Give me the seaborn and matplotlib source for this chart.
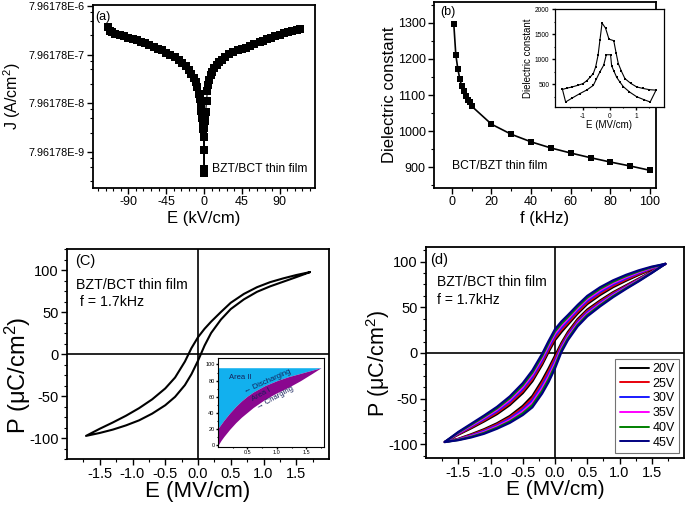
import numpy as np
import pandas as pd
import matplotlib
matplotlib.use("Agg")
import matplotlib.pyplot as plt
import seaborn as sns
from matplotlib.ticker import MultipleLocator, LogLocator, NullFormatter, FixedLocator, FormatStrFormatter
from matplotlib.lines import Line2D

# ---------------- (a) leakage current J-E ----------------
E_a = [-114, -112, -110, -106, -100, -95, -90, -85, -80, -75, -70, -65, -60, -55, -50,
       -45, -40, -35, -30, -26, -22, -18, -15, -12, -10, -8, -6, -5, -4, -3, -2, -1.5,
       -1, -0.6, -0.4, -0.2, 0.0, 0.2, 0.5, 1.0, 1.5, 2, 3, 4, 5, 6, 8, 10, 12, 15, 18,
       21, 25, 30, 35, 40, 45, 50, 55, 60, 66, 70, 75, 80, 85, 90, 95, 100, 105, 110, 114]
J_a = [3.02e-6, 2.51e-6, 2.29e-6, 2.14e-6, 2.00e-6, 1.91e-6, 1.78e-6, 1.66e-6, 1.58e-6,
       1.48e-6, 1.38e-6, 1.29e-6, 1.17e-6, 1.07e-6, 9.8e-7, 8.7e-7, 7.9e-7, 7.1e-7, 6.2e-7,
       5.5e-7, 4.6e-7, 3.8e-7, 3.2e-7, 2.6e-7, 2.2e-7, 1.74e-7, 1.26e-7, 1.0e-7, 7.9e-8,
       5.6e-8, 4.0e-8, 3.2e-8, 2.8e-8, 2.4e-8, 1.66e-8, 8.7e-9, 3.5e-9, 2.95e-9, 2.5e-8,
       3.5e-8, 4.5e-8, 5.4e-8, 8.9e-8, 1.41e-7, 1.91e-7, 2.4e-7, 3.0e-7, 3.5e-7, 4.2e-7,
       5.0e-7, 5.75e-7, 6.3e-7, 7.2e-7, 8.1e-7, 8.9e-7, 9.8e-7, 1.05e-6, 1.12e-6, 1.20e-6,
       1.32e-6, 1.48e-6, 1.55e-6, 1.66e-6, 1.78e-6, 1.91e-6, 2.04e-6, 2.19e-6, 2.34e-6,
       2.45e-6, 2.63e-6, 2.75e-6]
a_ticks = [7.96178e-9, 7.96178e-8, 7.96178e-7, 7.96178e-6]
a_ticklabels = ["7.96178E-9", "7.96178E-8", "7.96178E-7", "7.96178E-6"]
a_xticks = [-90, -45, 0, 45, 90]

# ---------------- (b) dielectric constant vs frequency ----------------
f_b = [1, 2, 3, 4, 5, 6, 7, 8, 9, 10, 20, 30, 40, 50, 60, 70, 80, 90, 100]
eps_b = [1296, 1212, 1173, 1145, 1124, 1111, 1096, 1087, 1081, 1069,
         1019, 991, 970, 953, 939, 926, 914, 903, 891]
# inset: butterfly curve (closed path)
E_bin = [-1.77, -1.6, -1.4, -1.2, -1.0, -0.85, -0.72, -0.61, -0.52, -0.43, -0.36, -0.28,
         -0.15, -0.02, 0.16, 0.25, 0.33, 0.45, 0.58, 0.8, 1.02, 1.25, 1.5, 1.75,
         1.53, 1.3, 1.02, 0.75, 0.52, 0.4, 0.27, 0.17, 0.08, 0.04, -0.12, -0.22, -0.36,
         -0.5, -0.61, -0.85, -1.12, -1.4, -1.65, -1.77]
eps_bin = [400, 425, 450, 480, 515, 575, 650, 715, 850, 1080, 1380, 1720,
           1620, 1400, 1370, 1120, 915, 760, 615, 520, 450, 420, 395, 385,
           150, 195, 255, 350, 455, 540, 640, 760, 870, 1090, 1090, 880, 750,
           600, 480, 390, 315, 230, 150, 400]

# ---------------- (c) P-E loop ----------------
E_loop = [-1.71, -1.5, -1.3, -1.1, -0.9, -0.7, -0.5, -0.35, -0.2, -0.1, 0.0,
          0.1, 0.2, 0.35, 0.5, 0.7, 0.9, 1.1, 1.3, 1.5, 1.71]
P_up_c = [-97.5, -89, -81.5, -73.5, -64.5, -54, -41, -28, -9, 7, 20,
          30, 38.5, 50, 61, 71.5, 79.5, 85.5, 90, 94, 97.5]
P_dn_c = [-97.5, -94, -90, -85, -79, -71, -61, -51, -37, -24, -8,
          10, 25, 41, 53.5, 65, 74, 80.5, 86, 91.5, 97.5]
# inset: energy storage areas
E_ins = [0.0, 0.05, 0.1, 0.2, 0.3, 0.4, 0.5, 0.6, 0.8, 1.0, 1.2, 1.4, 1.6, 1.75]
P_dis = [21, 26, 31, 40, 48, 55, 61, 66, 74, 80, 85, 89, 93, 96]
P_chg = [0, 6, 11, 20, 28, 35, 41, 47, 57, 65, 72, 80, 89, 96]
P_top = 96

# ---------------- (d) P-E loops at several voltages ----------------
volts = ["20V", "25V", "30V", "35V", "40V", "45V"]
colors_d = ["#000000", "#e8000b", "#1a1aff", "#ff00ff", "#008000", "#000080"]
P_up_d = {
    "20V": [-97.5, -89.5, -82.5, -75, -67, -57, -44, -31, -13, 1, 14, 23, 31, 43, 53.5, 63.5, 72, 79, 85.5, 91.5, 97.5],
    "25V": [-97.5, -88.9, -81.5, -73.7, -65.4, -55.1, -41.8, -28.6, -10.6, 3.4, 16.4, 25.3, 33.1, 44.9, 55.3, 65.2, 73.5, 80.3, 86.5, 92.1, 97.5],
    "30V": [-97.5, -88.3, -80.5, -72.4, -63.8, -53.2, -39.6, -26.2, -8.2, 5.8, 18.8, 27.6, 35.2, 46.8, 57.1, 66.9, 75, 81.6, 87.5, 92.7, 97.5],
    "35V": [-97.5, -87.7, -79.5, -71.1, -62.2, -51.3, -37.4, -23.8, -5.8, 8.2, 21.2, 29.9, 37.3, 48.7, 58.9, 68.6, 76.5, 82.9, 88.5, 93.3, 97.5],
    "40V": [-97.5, -87.1, -78.5, -69.8, -60.6, -49.4, -35.2, -21.4, -3.4, 10.6, 23.6, 32.2, 39.4, 50.6, 60.7, 70.3, 78, 84.2, 89.5, 93.9, 97.5],
    "45V": [-97.5, -86.5, -77.5, -68.5, -59, -47.5, -33, -19, -1, 13, 26, 34.5, 41.5, 52.5, 62.5, 72, 79.5, 85.5, 90.5, 94.5, 97.5],
}
P_dn_d = {
    "20V": [-97.5, -94, -89, -83.5, -77, -69, -58, -47, -30, -17, -3, 11, 23, 37, 47.5, 57.5, 66.5, 74, 81.5, 89, 97.5],
    "25V": [-97.5, -94.3, -89.7, -84.5, -78.2, -70.5, -60, -49.5, -32.9, -20, -5.8, 9, 21.2, 35.4, 46, 56.2, 65.4, 73.2, 80.9, 88.7, 97.5],
    "30V": [-97.5, -94.6, -90.4, -85.5, -79.4, -72, -62, -52, -35.8, -23, -8.6, 7, 19.4, 33.8, 44.5, 54.9, 64.3, 72.4, 80.3, 88.4, 97.5],
    "35V": [-97.5, -94.9, -91.1, -86.5, -80.6, -73.5, -64, -54.5, -38.7, -26, -11.4, 5, 17.6, 32.2, 43, 53.6, 63.2, 71.6, 79.7, 88.1, 97.5],
    "40V": [-97.5, -95.2, -91.8, -87.5, -81.8, -75, -66, -57, -41.6, -29, -14.2, 3, 15.8, 30.6, 41.5, 52.3, 62.1, 70.8, 79.1, 87.8, 97.5],
    "45V": [-97.5, -95.5, -92.5, -88.5, -83, -76.5, -68, -59.5, -44.5, -32, -17, 1, 14, 29, 40, 51, 61, 70, 78.5, 87.5, 97.5],
}
pe_xticks = [-1.5, -1.0, -0.5, 0.0, 0.5, 1.0, 1.5]
pe_yticks = [-100, -50, 0, 50, 100]

# ---------------- style ----------------
sns.set_theme(style="ticks")
plt.rcParams["font.family"] = ["Liberation Sans", "DejaVu Sans"]
plt.rcParams["mathtext.fontset"] = "custom"
plt.rcParams["mathtext.rm"] = "Liberation Sans"
plt.rcParams["mathtext.it"] = "Liberation Sans:italic"
plt.rcParams["axes.unicode_minus"] = False
plt.rcParams["axes.edgecolor"] = "black"
plt.rcParams["xtick.color"] = "black"
plt.rcParams["ytick.color"] = "black"
plt.rcParams["text.color"] = "black"
plt.rcParams["axes.labelcolor"] = "black"


def style_ax(ax, fs, lw=1.3, maj=4, mnr=2):
    ax.tick_params(axis="both", which="both", direction="out", top=False, right=False,
                   labelsize=fs, pad=2)
    ax.tick_params(which="major", length=maj, width=1.0)
    ax.tick_params(which="minor", length=mnr, width=0.8)
    for s in ax.spines.values():
        s.set_visible(True)
        s.set_linewidth(lw)
        s.set_color("black")


fig = plt.figure(figsize=(6.85, 5.07), dpi=100)
W, H = 685.0, 507.0


def box(l, t, r, b):
    return [l / W, 1 - b / H, (r - l) / W, (b - t) / H]


# ---------- panel (a) ----------
axA = fig.add_axes(box(93, 5, 315, 188))
sns.lineplot(x=E_a, y=J_a, ax=axA, color="black", lw=0.8, marker="s", markersize=5.3,
             markeredgewidth=0, sort=False, estimator=None)
axA.set_yscale("log")
axA.set_ylim(1.45e-9, 8.4e-6)
axA.set_xlim(-132, 132)
axA.yaxis.set_major_locator(FixedLocator(a_ticks))
axA.set_yticklabels(a_ticklabels)
axA.yaxis.set_minor_locator(LogLocator(base=10, subs=(2.0, 4.0, 6.0)))
axA.yaxis.set_minor_formatter(NullFormatter())
axA.set_xticks(a_xticks)
axA.xaxis.set_minor_locator(MultipleLocator(9))
style_ax(axA, 9)
axA.tick_params(axis="y", labelsize=7.8)
axA.set_xlabel("E (kV/cm)", fontsize=12, labelpad=2)
axA.set_ylabel("J (A/cm$^2$)", fontsize=11.5)
axA.yaxis.set_label_coords(-0.315, 0.5)
axA.text(0.01, 0.934, "(a)", transform=axA.transAxes, fontsize=9, ha="left", va="center")
axA.text(0.536, 0.104, "BZT/BCT thin film", transform=axA.transAxes, fontsize=8.7,
         ha="left", va="center")

# ---------- panel (b) ----------
axB = fig.add_axes(box(434, 2, 656, 188))
sns.lineplot(x=f_b, y=eps_b, ax=axB, color="black", lw=1.2, marker="s", markersize=4,
             markeredgewidth=0, sort=False, estimator=None)
axB.set_xlim(-9, 103)
axB.set_ylim(842, 1358)
axB.xaxis.set_major_locator(MultipleLocator(20))
axB.xaxis.set_minor_locator(MultipleLocator(10))
axB.yaxis.set_major_locator(MultipleLocator(100))
axB.yaxis.set_minor_locator(MultipleLocator(50))
style_ax(axB, 9)
axB.set_xlabel("f (kHz)", fontsize=12, labelpad=2)
axB.set_ylabel("Dielectric constant", fontsize=12)
axB.yaxis.set_label_coords(-0.165, 0.5)
axB.text(0.027, 0.946, "(b)", transform=axB.transAxes, fontsize=9, ha="left", va="center")
axB.text(0.081, 0.118, "BCT/BZT thin film", transform=axB.transAxes, fontsize=8.7,
         ha="left", va="center")

axBi = fig.add_axes(box(555, 9, 664, 107))
sns.lineplot(x=E_bin, y=eps_bin, ax=axBi, color="black", lw=0.8, marker="s", markersize=1.8,
             markeredgewidth=0, sort=False, estimator=None)
axBi.set_xlim(-2.05, 2.05)
axBi.set_ylim(50, 2000)
axBi.xaxis.set_major_locator(FixedLocator([-1, 0, 1]))
axBi.xaxis.set_minor_locator(FixedLocator([-1.5, -0.5, 0.5, 1.5]))
axBi.yaxis.set_major_locator(MultipleLocator(500))
axBi.yaxis.set_minor_locator(MultipleLocator(250))
style_ax(axBi, 4.8, lw=0.9, maj=2, mnr=1)
axBi.set_xlabel("E (MV/cm)", fontsize=7, labelpad=0)
axBi.set_ylabel("Dielectric constant", fontsize=7, labelpad=1)

# ---------- panel (c) ----------
axC = fig.add_axes(box(67, 249, 329, 459))
axC.axhline(0, color="black", lw=1.2, zorder=1)
axC.axvline(0, color="black", lw=1.2, zorder=1)
E_path_c = E_loop[::-1] + E_loop
P_path_c = P_up_c[::-1] + P_dn_c
sns.lineplot(x=E_path_c, y=P_path_c, ax=axC, color="black", lw=1.5, sort=False, estimator=None)
axC.set_xlim(-2, 2)
axC.set_ylim(-125, 125)
axC.xaxis.set_major_locator(FixedLocator(pe_xticks))
axC.xaxis.set_minor_locator(FixedLocator([-1.75, -1.25, -0.75, -0.25, 0.25, 0.75, 1.25, 1.75]))
axC.yaxis.set_major_locator(FixedLocator(pe_yticks))
axC.yaxis.set_minor_locator(MultipleLocator(12.5))
axC.xaxis.set_major_formatter(FormatStrFormatter("%.1f"))
style_ax(axC, 10.5)
axC.set_xlabel("E (MV/cm)", fontsize=16, labelpad=0)
axC.set_ylabel("P (\u03bcC/cm$^2$)", fontsize=17)
axC.yaxis.set_label_coords(-0.13, 0.4)
axC.text(0.031, 0.943, "(C)", transform=axC.transAxes, fontsize=10.5, ha="left", va="center")
axC.text(0.034, 0.829, "BZT/BCT thin film", transform=axC.transAxes, fontsize=10.2,
         ha="left", va="center")
axC.text(0.034, 0.748, " f = 1.7kHz", transform=axC.transAxes, fontsize=10.2,
         ha="left", va="center")

axCi = fig.add_axes(box(218, 358, 324, 447))
axCi.fill_between(E_ins, P_dis, P_top, color="#12b0ee", lw=0)
axCi.fill_between(E_ins, P_chg, P_dis, color="#8a078f", lw=0)
axCi.set_xlim(0.0, 1.8)
axCi.set_ylim(-2, 108)
axCi.xaxis.set_major_locator(FixedLocator([0.5, 1.0, 1.5]))
axCi.xaxis.set_minor_locator(FixedLocator([0.25, 0.75, 1.25, 1.75]))
axCi.yaxis.set_major_locator(MultipleLocator(20))
axCi.yaxis.set_minor_locator(MultipleLocator(10))
axCi.xaxis.set_major_formatter(FormatStrFormatter("%.1f"))
style_ax(axCi, 4, lw=0.8, maj=1.5, mnr=0.8)
axCi.tick_params(pad=1)
txtc = "#15205a"
axCi.text(0.38, 84, "Area II", fontsize=5.5, color=txtc, ha="center", va="center")
axCi.text(0.84, 79.5, "\u2190 Discharging", fontsize=5.5, color=txtc, ha="center",
          va="center", rotation=24, family=["Liberation Sans", "DejaVu Sans"])
axCi.text(0.73, 62, "Area I", fontsize=5.5, color=txtc, ha="center", va="center", rotation=29)
axCi.text(0.97, 59, "\u2192 Charging", fontsize=5.5, color=txtc, ha="center", va="center",
          rotation=29, family=["Liberation Sans", "DejaVu Sans"])

# ---------- panel (d) ----------
axD = fig.add_axes(box(426, 247, 684, 458))
axD.axhline(0, color="black", lw=1.2, zorder=1)
axD.axvline(0, color="black", lw=1.2, zorder=1)
rows = []
for v in volts:
    Ep = E_loop[::-1] + E_loop
    Pp = P_up_d[v][::-1] + P_dn_d[v]
    for e, p in zip(Ep, Pp):
        rows.append({"V": v, "E": e, "P": p})
df_d = pd.DataFrame(rows)
sns.lineplot(data=df_d, x="E", y="P", hue="V", hue_order=volts, palette=colors_d, ax=axD,
             lw=1.6, sort=False, estimator=None, legend=False)
axD.set_xlim(-2, 2)
axD.set_ylim(-115, 116)
axD.xaxis.set_major_locator(FixedLocator(pe_xticks))
axD.xaxis.set_minor_locator(FixedLocator([-1.75, -1.25, -0.75, -0.25, 0.25, 0.75, 1.25, 1.75]))
axD.yaxis.set_major_locator(FixedLocator(pe_yticks))
axD.yaxis.set_minor_locator(MultipleLocator(12.5))
axD.xaxis.set_major_formatter(FormatStrFormatter("%.1f"))
style_ax(axD, 10.5)
axD.set_xlabel("E (MV/cm)", fontsize=15, labelpad=0)
axD.set_ylabel("P (\u03bcC/cm$^2$)", fontsize=15.5)
axD.yaxis.set_label_coords(-0.13, 0.45)
axD.text(0.016, 0.938, "(d)", transform=axD.transAxes, fontsize=10.5, ha="left", va="center")
axD.text(0.043, 0.836, "BZT/BCT thin film", transform=axD.transAxes, fontsize=10,
         ha="left", va="center")
axD.text(0.043, 0.749, "f = 1.7kHz", transform=axD.transAxes, fontsize=10,
         ha="left", va="center")
handles = [Line2D([0], [0], color=c, lw=1.4) for c in colors_d]
leg = axD.legend(handles, volts, loc="lower right", fontsize=9, handlelength=2.3,
                 labelspacing=0.22, borderpad=0.35, handletextpad=0.3,
                 borderaxespad=0.4, fancybox=False, framealpha=1, edgecolor="0.45")
leg.get_frame().set_linewidth(0.8)

fig.savefig("out.png", dpi=100)
